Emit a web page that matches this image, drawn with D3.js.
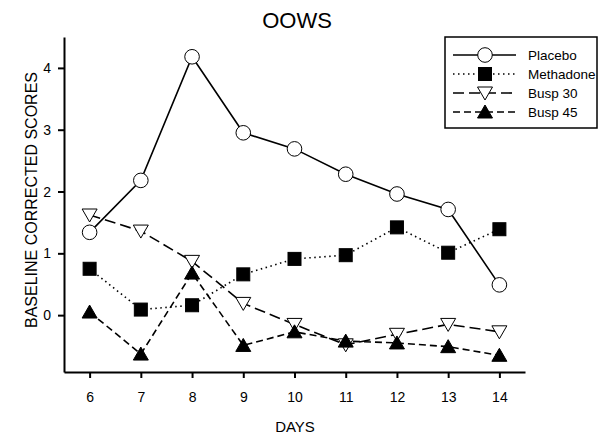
<!DOCTYPE html>
<html>
<head>
<meta charset="utf-8">
<script src="https://cdn.jsdelivr.net/npm/d3@7"></script>
<style>
  body { margin: 0; background: #fff; }
  text { font-family: "Liberation Sans", Arial, sans-serif; fill: #000; }
</style>
</head>
<body>
<div id="chart"></div>
<script>
const days = [6, 7, 8, 9, 10, 11, 12, 13, 14];
const placebo = [1.34, 2.18, 4.18, 2.95, 2.69, 2.28, 1.96, 1.71, 0.49];
const methadone = [0.75, 0.09, 0.16, 0.66, 0.91, 0.97, 1.42, 1.01, 1.39];
const busp30 = [1.62, 1.36, 0.87, 0.19, -0.15, -0.48, -0.31, -0.15, -0.27];
const busp45 = [0.05, -0.63, 0.68, -0.49, -0.27, -0.42, -0.45, -0.51, -0.65];
const yTicks = [0, 1, 2, 3, 4];

const width = 607;
const height = 435;

const series = [
  { name: 'Placebo', values: placebo, dash: null, symbol: 'circle', fill: '#fff' },
  { name: 'Methadone', values: methadone, dash: '1.5,3.5', symbol: 'square', fill: '#000' },
  { name: 'Busp 30', values: busp30, dash: '11,5', symbol: 'down', fill: '#fff' },
  { name: 'Busp 45', values: busp45, dash: '7,4', symbol: 'up', fill: '#000' }
];

const svg = d3
  .select('#chart')
  .append('svg')
  .attr('width', width)
  .attr('height', height);

const x = d3.scaleLinear().domain([5.5, 14.5]).range([64, 525]);
const y = d3.scaleLinear().domain([-0.92, 4.5]).range([372, 37]);

/* Axes
-----------------------------------------------------------------------------*/
const xAxis = svg
  .append('g')
  .attr('transform', 'translate(0,372)')
  .call(d3.axisBottom(x).tickValues(days).tickFormat(d3.format('d'))
    .tickSize(6).tickSizeOuter(0).tickPadding(14));

const yAxis = svg
  .append('g')
  .attr('transform', 'translate(64,0)')
  .call(d3.axisLeft(y).tickValues(yTicks).tickFormat(d3.format('d'))
    .tickSize(6).tickSizeOuter(0).tickPadding(7));

[xAxis, yAxis].forEach((axis) => {
  axis.attr('font-size', null).attr('font-family', null);
  axis.select('.domain').attr('stroke-width', 2);
  axis.selectAll('.tick line').attr('stroke-width', 2);
  axis.selectAll('.tick text').style('font-size', '14px');
});

svg
  .append('text')
  .attr('x', 297)
  .attr('y', 28)
  .attr('text-anchor', 'middle')
  .style('font-size', '22px')
  .text('OOWS');

svg
  .append('text')
  .attr('x', 295)
  .attr('y', 432)
  .attr('text-anchor', 'middle')
  .style('font-size', '15px')
  .text('DAYS');

svg
  .append('text')
  .attr('transform', 'translate(37,200) rotate(-90)')
  .attr('text-anchor', 'middle')
  .style('font-size', '16px')
  .text('BASELINE CORRECTED SCORES');

/* Symbols
-----------------------------------------------------------------------------*/
function drawSymbol(g, s, cx, cy) {
  if (s.symbol === 'circle') {
    g.append('circle').attr('cx', cx).attr('cy', cy).attr('r', 7.3)
      .attr('fill', s.fill).attr('stroke', '#000').attr('stroke-width', 1);
  } else if (s.symbol === 'square') {
    g.append('rect').attr('x', cx - 6.5).attr('y', cy - 6.5).attr('width', 13).attr('height', 13)
      .attr('fill', s.fill).attr('stroke', '#000').attr('stroke-width', 1);
  } else {
    const dir = s.symbol === 'up' ? -1 : 1;
    const pts = [
      [cx - 7.5, cy - dir * 6],
      [cx + 7.5, cy - dir * 6],
      [cx, cy + dir * 7]
    ];
    g.append('path').attr('d', d3.line()(pts) + 'Z')
      .attr('fill', s.fill).attr('stroke', '#000').attr('stroke-width', 1);
  }
}

/* Lines
-----------------------------------------------------------------------------*/
const line = d3.line().x((d, i) => x(days[i])).y((d) => y(d));

series.forEach((s) => {
  svg
    .append('path')
    .attr('d', line(s.values))
    .attr('fill', 'none')
    .attr('stroke', '#000')
    .attr('stroke-width', 1.6)
    .attr('stroke-dasharray', s.dash);
});

series.forEach((s) => {
  const g = svg.append('g');
  s.values.forEach((v, i) => drawSymbol(g, s, x(days[i]), y(v)));
});

/* Legend
-----------------------------------------------------------------------------*/
const legend = svg.append('g');
legend
  .append('rect')
  .attr('x', 445)
  .attr('y', 37)
  .attr('width', 152)
  .attr('height', 91)
  .attr('fill', '#fff')
  .attr('stroke', '#000')
  .attr('stroke-width', 1.5);

series.forEach((s, i) => {
  const ly = 55 + i * 19;
  legend
    .append('line')
    .attr('x1', 453)
    .attr('x2', 516)
    .attr('y1', ly)
    .attr('y2', ly)
    .attr('stroke', '#000')
    .attr('stroke-width', 1.6)
    .attr('stroke-dasharray', s.dash);
  drawSymbol(legend, s, 485, ly);
  legend
    .append('text')
    .attr('x', 528)
    .attr('y', ly + 5)
    .style('font-size', '13.5px')
    .text(s.name);
});
</script>
</body>
</html>
